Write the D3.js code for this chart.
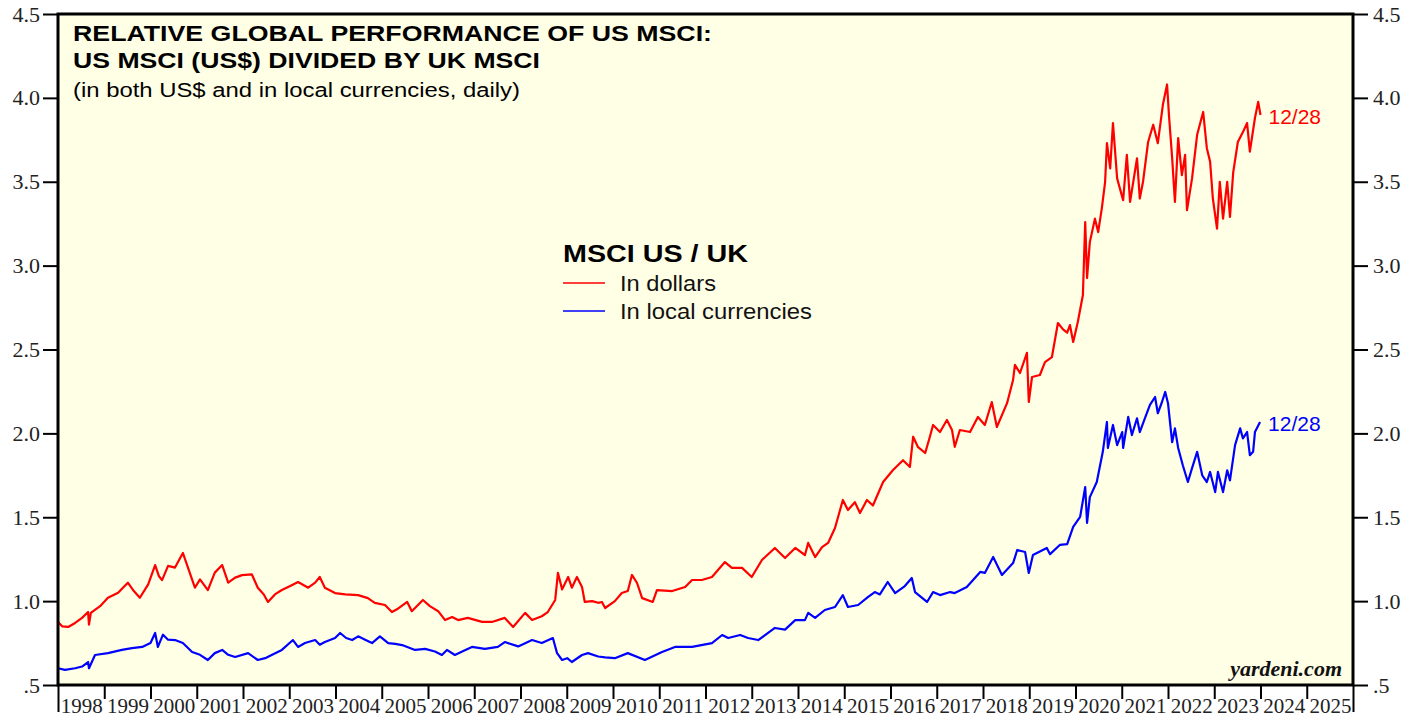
<!DOCTYPE html>
<html><head><meta charset="utf-8">
<script src="https://cdn.jsdelivr.net/npm/d3@7"></script>
<style>html,body{margin:0;padding:0;background:#fff;}svg{display:block;}</style>
</head><body>
<svg id="chart" width="1419" height="719"></svg>
<script>
// ---- data ----
const yearLabels = ["1998","1999","2000","2001","2002","2003","2004","2005","2006","2007","2008","2009","2010","2011","2012","2013","2014","2015","2016","2017","2018","2019","2020","2021","2022","2023","2024","2025"];
const yTickValues = [0.5,1.0,1.5,2.0,2.5,3.0,3.5,4.0,4.5];

// MSCI US / UK in dollars (time in decimal years)
const dollarT = [1998.00,1998.09,1998.22,1998.37,1998.52,1998.65,1998.67,1998.71,1998.91,1999.08,1999.30,1999.51,1999.64,1999.77,1999.95,2000.10,2000.18,2000.25,2000.38,2000.53,2000.70,2000.81,2000.96,2001.07,2001.24,2001.39,2001.55,2001.68,2001.83,2001.98,2002.19,2002.32,2002.45,2002.54,2002.69,2002.84,2003.02,2003.19,2003.41,2003.56,2003.66,2003.77,2003.99,2004.21,2004.49,2004.70,2004.85,2005.07,2005.22,2005.35,2005.55,2005.65,2005.89,2006.04,2006.22,2006.37,2006.52,2006.65,2006.86,2007.17,2007.38,2007.66,2007.84,2008.10,2008.25,2008.46,2008.59,2008.75,2008.81,2008.90,2009.03,2009.11,2009.22,2009.33,2009.39,2009.55,2009.68,2009.76,2009.83,2010.04,2010.19,2010.32,2010.41,2010.52,2010.63,2010.86,2010.95,2011.28,2011.56,2011.71,2011.92,2012.14,2012.27,2012.42,2012.57,2012.79,2013.00,2013.22,2013.50,2013.72,2013.94,2014.15,2014.22,2014.37,2014.52,2014.65,2014.80,2014.97,2015.08,2015.23,2015.34,2015.49,2015.62,2015.84,2016.05,2016.27,2016.42,2016.49,2016.59,2016.75,2016.85,2016.92,2017.07,2017.22,2017.33,2017.39,2017.50,2017.72,2017.89,2018.04,2018.19,2018.30,2018.52,2018.65,2018.69,2018.80,2018.95,2018.99,2019.06,2019.23,2019.34,2019.49,2019.62,2019.73,2019.82,2019.88,2019.95,2020.05,2020.16,2020.21,2020.25,2020.31,2020.42,2020.49,2020.57,2020.64,2020.68,2020.75,2020.81,2020.90,2021.03,2021.11,2021.18,2021.33,2021.39,2021.46,2021.57,2021.68,2021.78,2021.89,2021.98,2022.02,2022.09,2022.15,2022.22,2022.30,2022.37,2022.41,2022.52,2022.63,2022.76,2022.84,2022.91,2022.97,2023.06,2023.12,2023.19,2023.28,2023.34,2023.41,2023.51,2023.62,2023.71,2023.77,2023.88,2023.95,2024.00];
const dollarV = [0.876,0.850,0.846,0.870,0.900,0.935,0.860,0.930,0.970,1.020,1.050,1.110,1.060,1.020,1.100,1.215,1.150,1.125,1.210,1.200,1.287,1.200,1.080,1.130,1.066,1.170,1.215,1.110,1.140,1.155,1.160,1.080,1.040,0.995,1.040,1.066,1.090,1.114,1.080,1.110,1.144,1.080,1.048,1.040,1.036,1.018,0.990,0.977,0.935,0.955,0.995,0.940,1.007,0.970,0.940,0.887,0.905,0.887,0.900,0.876,0.876,0.900,0.846,0.930,0.887,0.910,0.935,1.007,1.168,1.070,1.144,1.080,1.144,1.084,0.995,1.000,0.990,0.995,0.959,1.000,1.048,1.060,1.156,1.108,1.018,0.995,1.066,1.060,1.084,1.126,1.126,1.144,1.186,1.233,1.198,1.198,1.144,1.245,1.317,1.257,1.317,1.275,1.347,1.263,1.322,1.347,1.436,1.603,1.543,1.590,1.525,1.603,1.570,1.710,1.780,1.840,1.800,1.980,1.920,1.883,1.978,2.050,2.008,2.080,2.020,1.920,2.020,2.008,2.098,2.050,2.187,2.038,2.180,2.318,2.408,2.360,2.480,2.187,2.336,2.348,2.425,2.455,2.658,2.620,2.600,2.646,2.545,2.664,2.825,3.260,2.926,3.140,3.280,3.200,3.343,3.498,3.730,3.580,3.850,3.520,3.390,3.660,3.380,3.640,3.400,3.500,3.737,3.840,3.730,3.960,4.080,3.900,3.640,3.380,3.760,3.540,3.660,3.330,3.520,3.780,3.916,3.700,3.620,3.400,3.220,3.500,3.280,3.500,3.290,3.556,3.737,3.796,3.850,3.680,3.880,3.976,3.898];

// MSCI US / UK in local currencies
const localT = [1998.00,1998.15,1998.37,1998.52,1998.65,1998.67,1998.80,1999.08,1999.38,1999.60,1999.82,2000.00,2000.10,2000.16,2000.27,2000.38,2000.53,2000.70,2000.90,2001.07,2001.24,2001.39,2001.55,2001.68,2001.83,2002.11,2002.32,2002.48,2002.63,2002.84,2003.08,2003.19,2003.34,2003.56,2003.66,2003.77,2003.99,2004.10,2004.23,2004.36,2004.49,2004.64,2004.79,2004.96,2005.14,2005.29,2005.44,2005.72,2005.94,2006.15,2006.30,2006.41,2006.58,2006.74,2006.95,2007.23,2007.51,2007.66,2007.95,2008.25,2008.46,2008.70,2008.79,2008.90,2009.01,2009.11,2009.33,2009.46,2009.68,2009.83,2010.04,2010.32,2010.69,2011.06,2011.34,2011.71,2012.14,2012.36,2012.49,2012.75,2012.92,2013.14,2013.50,2013.72,2013.94,2014.15,2014.22,2014.37,2014.58,2014.80,2014.97,2015.08,2015.30,2015.51,2015.66,2015.77,2015.94,2016.10,2016.31,2016.46,2016.53,2016.79,2016.92,2017.07,2017.29,2017.39,2017.65,2017.94,2018.04,2018.22,2018.41,2018.65,2018.74,2018.91,2018.99,2019.08,2019.38,2019.45,2019.66,2019.82,2019.95,2020.10,2020.21,2020.25,2020.31,2020.46,2020.59,2020.68,2020.70,2020.81,2020.90,2021.01,2021.03,2021.14,2021.22,2021.33,2021.39,2021.50,2021.61,2021.72,2021.78,2021.87,2021.94,2022.00,2022.09,2022.15,2022.22,2022.32,2022.43,2022.52,2022.63,2022.74,2022.84,2022.91,2023.02,2023.08,2023.19,2023.28,2023.34,2023.45,2023.56,2023.62,2023.71,2023.77,2023.84,2023.88,2023.99];
const localV = [0.600,0.590,0.600,0.610,0.637,0.600,0.679,0.690,0.709,0.720,0.727,0.750,0.810,0.727,0.800,0.770,0.768,0.750,0.697,0.680,0.649,0.690,0.709,0.680,0.667,0.690,0.649,0.660,0.680,0.709,0.768,0.727,0.750,0.768,0.740,0.756,0.780,0.810,0.780,0.768,0.790,0.770,0.750,0.790,0.750,0.745,0.738,0.709,0.715,0.700,0.679,0.709,0.679,0.700,0.727,0.715,0.727,0.756,0.730,0.768,0.750,0.780,0.690,0.649,0.660,0.637,0.679,0.690,0.670,0.665,0.660,0.690,0.649,0.697,0.727,0.727,0.750,0.798,0.780,0.798,0.780,0.768,0.840,0.830,0.887,0.887,0.930,0.900,0.947,0.965,1.036,0.965,0.977,1.024,1.054,1.040,1.114,1.048,1.090,1.138,1.054,0.995,1.054,1.036,1.054,1.048,1.084,1.174,1.168,1.263,1.156,1.227,1.305,1.293,1.168,1.275,1.317,1.280,1.335,1.340,1.442,1.502,1.680,1.466,1.620,1.710,1.890,2.068,1.913,2.050,1.930,2.008,1.913,2.098,1.990,2.090,2.008,2.090,2.170,2.217,2.120,2.187,2.247,2.180,1.947,2.030,1.913,1.810,1.710,1.793,1.890,1.750,1.710,1.770,1.650,1.770,1.650,1.780,1.720,1.930,2.030,1.970,2.008,1.870,1.890,2.008,2.068];

const seriesNames = ["In dollars","In local currencies"];
const seriesLabelWidths = [96, 192];
const seriesColors = ["#ff0000","#0000ff"];
const endLabel = "12/28";

// ---- layout ----
const L = 58, R = 1353, T = 14, B = 685;
const svg = d3.select("#chart");
const x = d3.scaleLinear().domain([1998, 2026]).range([L, R]);
const y = d3.scaleLinear().domain([0.5, 4.5]).range([B, T]);

svg.append("rect").attr("x",0).attr("y",0).attr("width",1419).attr("height",719).attr("fill","#ffffff");
svg.append("rect").attr("x",L).attr("y",T).attr("width",R-L).attr("height",B-T).attr("fill","#ffffe5");

const fmtY = d => d === 0.5 ? ".5" : d.toFixed(1);
const serif = "'Liberation Serif','Times New Roman',serif";
const sans = "'Liberation Sans',Arial,Helvetica,sans-serif";

// left axis
const ga = svg.append("g").attr("transform",`translate(${L},0)`)
  .call(d3.axisLeft(y).tickValues(yTickValues).tickSize(15).tickPadding(3).tickFormat(fmtY));
ga.select(".domain").remove();
ga.selectAll("line").attr("stroke","#000").attr("stroke-width",2);
ga.selectAll("text").attr("font-family",serif).attr("font-size",22).attr("fill","#222");
// right axis
const gr = svg.append("g").attr("transform",`translate(${R},0)`)
  .call(d3.axisRight(y).tickValues(yTickValues).tickSize(15).tickPadding(5).tickFormat(fmtY));
gr.select(".domain").remove();
gr.selectAll("line").attr("stroke","#000").attr("stroke-width",2);
gr.selectAll("text").attr("font-family",serif).attr("font-size",22).attr("fill","#222");

// bottom year ticks
const yearBounds = d3.range(1998, 2027);
const gb = svg.append("g").attr("transform",`translate(0,${B})`)
  .call(d3.axisBottom(x).tickValues(yearBounds).tickSize(14).tickFormat(""));
gb.select(".domain").remove();
gb.selectAll("line").attr("stroke","#000").attr("stroke-width",2)
  .attr("y2", d => (d === 1998 || d === 2026) ? 27 : 14);
const gl = svg.append("g").attr("transform",`translate(0,${B})`)
  .call(d3.axisBottom(x).tickValues(yearLabels.map(s => +s + 0.5)).tickSize(0).tickPadding(13)
    .tickFormat(d => yearLabels[Math.floor(d) - 1998]));
gl.select(".domain").remove();
gl.selectAll("text").attr("font-family",serif).attr("font-size",21).attr("fill","#222");

// lines
const line = d3.line().x(d => x(d[0])).y(d => y(d[1]));
const dollarData = d3.zip(dollarT, dollarV);
const localData = d3.zip(localT, localV);
[dollarData, localData].forEach((data, i) => {
  svg.append("path").datum(data).attr("d", line)
    .attr("fill","none").attr("stroke",seriesColors[i]).attr("stroke-width",2.2).attr("stroke-linejoin","round");
});

// frame
svg.append("rect").attr("x",L).attr("y",T).attr("width",R-L).attr("height",B-T)
  .attr("fill","none").attr("stroke","#000").attr("stroke-width",3);

// end labels
[dollarData, localData].forEach((data, i) => {
  const last = data[data.length-1];
  svg.append("text").attr("x", x(last[0]) + 8).attr("y", y(last[1]) + 3)
    .attr("dominant-baseline","middle")
    .attr("font-family",sans).attr("font-size",21).attr("fill",seriesColors[i]).text(endLabel);
});

// titles
svg.append("text").attr("x",73).attr("y",41).attr("font-family",sans).attr("font-weight","bold")
  .attr("font-size",22).attr("textLength",639).attr("lengthAdjust","spacingAndGlyphs")
  .text("RELATIVE GLOBAL PERFORMANCE OF US MSCI:");
svg.append("text").attr("x",73).attr("y",68).attr("font-family",sans).attr("font-weight","bold")
  .attr("font-size",22).attr("textLength",467).attr("lengthAdjust","spacingAndGlyphs")
  .text("US MSCI (US$) DIVIDED BY UK MSCI");
svg.append("text").attr("x",73).attr("y",97).attr("font-family",sans)
  .attr("font-size",20).attr("textLength",447).attr("lengthAdjust","spacingAndGlyphs")
  .text("(in both US$ and in local currencies, daily)");

// legend
svg.append("text").attr("x",563).attr("y",262).attr("font-family",sans).attr("font-weight","bold")
  .attr("font-size",24).attr("textLength",185).attr("lengthAdjust","spacingAndGlyphs").text("MSCI US / UK");
seriesNames.forEach((n, i) => {
  const yy = 283 + i*28;
  svg.append("line").attr("x1",563).attr("x2",605).attr("y1",yy).attr("y2",yy)
    .attr("stroke",seriesColors[i]).attr("stroke-width",1.5);
  svg.append("text").attr("x",620).attr("y",yy+8).attr("font-family",sans).attr("font-size",22)
    .attr("textLength",seriesLabelWidths[i]).attr("lengthAdjust","spacingAndGlyphs")
    .attr("fill","#111").text(n);
});

// source
svg.append("text").attr("x",1342).attr("y",676).attr("text-anchor","end")
  .attr("font-family",serif).attr("font-weight","bold").attr("font-style","italic")
  .attr("font-size",22).attr("fill","#111").text("yardeni.com");
</script>
</body></html>
